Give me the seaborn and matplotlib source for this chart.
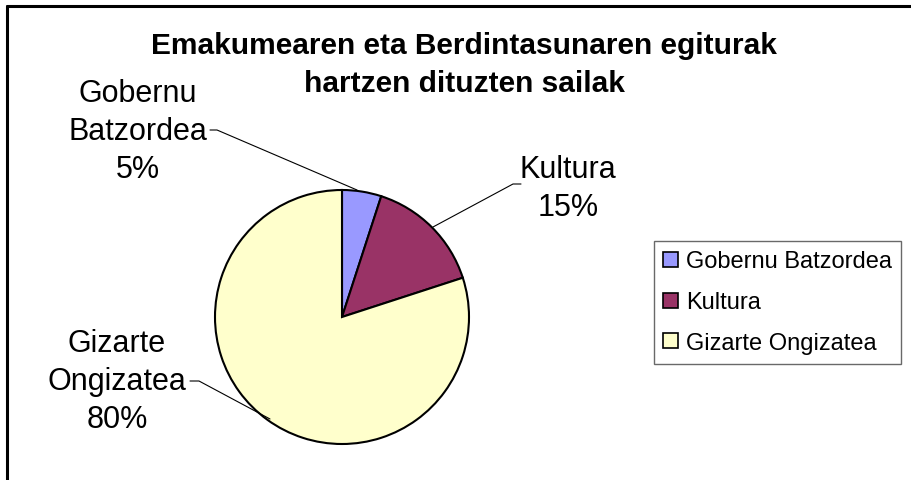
import matplotlib
matplotlib.use("Agg")
import matplotlib.pyplot as plt
import seaborn as sns
from matplotlib.lines import Line2D
from matplotlib.patches import Patch

departments = ["Gobernu Batzordea", "Kultura", "Gizarte Ongizatea"]
counts = [1, 3, 16]
slice_colors = ["#9999FF", "#993366", "#FFFFCC"]
label_texts = ["Gobernu\nBatzordea", "Kultura", "Gizarte\nOngizatea"]
title = "Emakumearen eta Berdintasunaren egiturak\nhartzen dituzten sailak"

sns.set_theme(style="white")
plt.rcParams["font.family"] = ["Liberation Sans", "DejaVu Sans"]
plt.rcParams["text.color"] = "black"

W, H = 912, 481
fig = plt.figure(figsize=(W / 100, H / 100), dpi=100)

# pie centre (342, 318) px, radius 127 px
cx, cy, r = 342, 318, 127
ax = fig.add_axes([(cx - r) / W, (H - cy - r) / H, 2 * r / W, 2 * r / H])
wedges, _ = ax.pie(counts, colors=slice_colors, startangle=90, counterclock=False,
                   radius=1, wedgeprops=dict(edgecolor="black", linewidth=1.5))
ax.set_xlim(-1, 1)
ax.set_ylim(-1, 1)
ax.set_aspect("equal")
ax.axis("off")

total = sum(counts)
pcts = [f"{round(100 * c / total)}%" for c in counts]


def px_to_data(x, y):
    return (x - cx) / r, (cy - y) / r


# label positions (px) and leader lines
label_pos = [(138, 132), (568, 189), (117, 382)]
leaders = [
    [(210, 131), (217, 131), (357, 191)],
    [(521, 185), (513, 185), (433, 228)],
    [(190, 382), (199, 382), (270, 420)],
]
for txt, pct, (lx, ly), pts in zip(label_texts, pcts, label_pos, leaders):
    dx, dy = px_to_data(lx, ly)
    ax.text(dx, dy, f"{txt}\n{pct}", ha="center", va="center", fontsize=22,
            linespacing=1.33, clip_on=False)
    xs, ys = zip(*[px_to_data(*p) for p in pts])
    ax.add_line(Line2D(xs, ys, color="black", linewidth=0.8, clip_on=False))

fig.text(464 / W, 1 - 65 / H, title, ha="center", va="center", fontsize=21.5,
         fontweight="bold", linespacing=1.45)

handles = [Patch(facecolor=c, edgecolor="black", linewidth=1.2) for c in slice_colors]
leg = fig.legend(handles, departments, loc="upper left",
                 bbox_to_anchor=(654 / W, 1 - 242 / H), fontsize=17,
                 frameon=True, fancybox=False, handlelength=0.6, handleheight=0.6,
                 handletextpad=0.35, labelspacing=0.8, borderpad=0.4, borderaxespad=0)
leg.get_frame().set_edgecolor("#444444")
leg.get_frame().set_linewidth(1.0)

# chart frame: top and left borders
fig.add_artist(Line2D([7 / W, 1], [1 - 7 / H, 1 - 7 / H], color="black", linewidth=2.2,
                      transform=fig.transFigure))
fig.add_artist(Line2D([7 / W, 7 / W], [0, 1 - 7 / H], color="black", linewidth=2.2,
                      transform=fig.transFigure))

fig.savefig("out.png", dpi=100, facecolor="white")
